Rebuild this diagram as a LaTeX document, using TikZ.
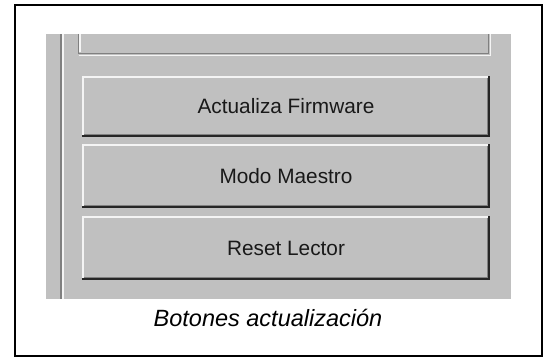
\documentclass[tikz,border=0pt]{standalone}
\usepackage{fontspec}
\setmainfont{Liberation Sans}
\usetikzlibrary{calc}
\definecolor{wingray}{HTML}{C0C0C0}
\definecolor{winshade}{HTML}{808080}
\definecolor{winlight}{HTML}{F4F4F4}
\tikzset{
  frame/.style={draw=black, line width=2pt},
  panel/.style={fill=wingray, draw=none},
  btn/.style={fill=wingray, draw=none, minimum width=408pt, inner sep=0pt,
    font=\fontsize{20.8}{24}\selectfont, text=black!90},
  caption/.style={font=\fontsize{23.5}{28}\selectfont\itshape, inner sep=0pt, text=black},
  lite/.style={draw=winlight, line width=2pt},
  dark/.style={draw=black!85, line width=2pt},
  shade/.style={draw=winshade, line width=1.5pt},
}
\newcommand{\winbevel}[1]{%
  \draw[lite] ([shift={(1pt,2pt)}]#1.south west) -- ([shift={(1pt,-1pt)}]#1.north west) -- ([shift={(-2pt,-1pt)}]#1.north east);
  \draw[shade] ([shift={(2pt,2.75pt)}]#1.south west) -- ([shift={(-2.75pt,2.75pt)}]#1.south east) -- ([shift={(-2.75pt,-2pt)}]#1.north east);
  \draw[dark] ([shift={(0pt,1pt)}]#1.south west) -- ([shift={(-1pt,1pt)}]#1.south east) -- ([shift={(-1pt,0pt)}]#1.north east);
}
\begin{document}
\begin{tikzpicture}[x=1pt,y=-1pt]
\useasboundingbox (0,0) rectangle (547,358);
% outer frame
\draw[frame] (15,5) rectangle (542,356.5);
% gray panel
\fill[panel] (46,34) rectangle (511,299);
% vertical groove
\draw[draw=winshade, line width=1.5pt] (61,34) -- (61,299);
\draw[draw=winlight, line width=1.5pt] (62.8,34) -- (62.8,299);
% group box groove (partial)
\draw[draw=winshade, line width=1.5pt] (78.5,34) -- (78.5,53.5) -- (488.5,53.5) -- (488.5,34);
\draw[draw=winlight, line width=1.5pt] (80.2,34) -- (80.2,52) (78.5,55.3) -- (490.3,55.3) -- (490.3,34);
% buttons
\node[btn, minimum height=61pt] (b1) at (286,106.5) {Actualiza Firmware};
\node[btn, minimum height=64pt] (b2) at (286,176) {Modo Maestro};
\node[btn, minimum height=64pt] (b3) at (286,248) {Reset Lector};
\winbevel{b1}
\winbevel{b2}
\winbevel{b3}
% caption
\node[caption, anchor=base] (cap) at (268,327) {Botones actualización};
\end{tikzpicture}
\end{document}
